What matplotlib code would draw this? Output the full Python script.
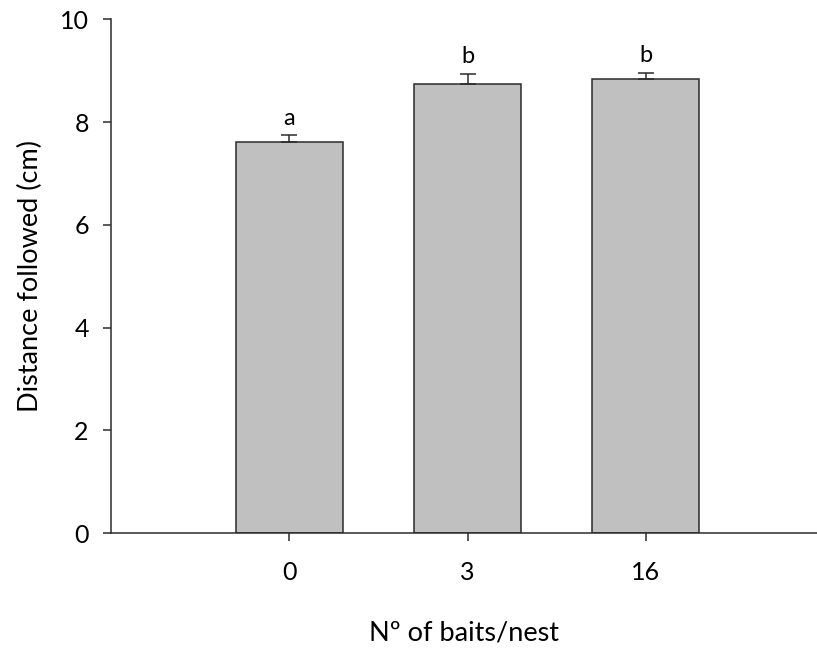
import matplotlib.pyplot as plt

# data
categories = ["0", "3", "16"]
means = [7.61, 8.75, 8.84]
se = [0.13, 0.18, 0.11]
letters = ["a", "b", "b"]

plt.rcParams["font.family"] = ["Lato", "DejaVu Sans"]

fig = plt.figure(figsize=(8.17, 6.48), dpi=100)
ax = fig.add_axes([111 / 817, (648 - 533.3) / 648, 1 - 111 / 817, (533.3 - 19.3) / 648])

x = list(range(len(categories)))
ax.bar(x, means, width=0.6, color="#c0c0c0", edgecolor="#2b2b2b", linewidth=1.1, zorder=2)
ax.errorbar(x, means, yerr=[[0] * len(se), se], fmt="none", ecolor="#2b2b2b",
            elinewidth=1.1, capsize=6, capthick=1.1, zorder=3)

for xi, m, s, lab in zip(x, means, se, letters):
    ax.annotate(lab, (xi, m + s), xytext=(0, 5), textcoords="offset points",
                ha="center", va="bottom", fontsize=17)

ax.set_xlim(-1, 2.96)
ax.set_ylim(0, 10)
ax.set_yticks([0, 2, 4, 6, 8, 10])
ax.set_xticks(x)
ax.set_xticklabels(categories)

for side in ("top", "right"):
    ax.spines[side].set_visible(False)
for side in ("left", "bottom"):
    ax.spines[side].set_color("#2b2b2b")
    ax.spines[side].set_linewidth(1.1)

ax.tick_params(axis="y", length=6, width=1.1, color="#2b2b2b", labelsize=18, pad=10)
ax.tick_params(axis="x", length=6, width=1.1, color="#2b2b2b", labelsize=18, pad=14)

ax.set_ylabel("Distance followed (cm)", fontsize=19.5, labelpad=12)
ax.set_xlabel("Nº of baits/nest", fontsize=19.5, labelpad=26)

fig.savefig("out.png", dpi=100)
